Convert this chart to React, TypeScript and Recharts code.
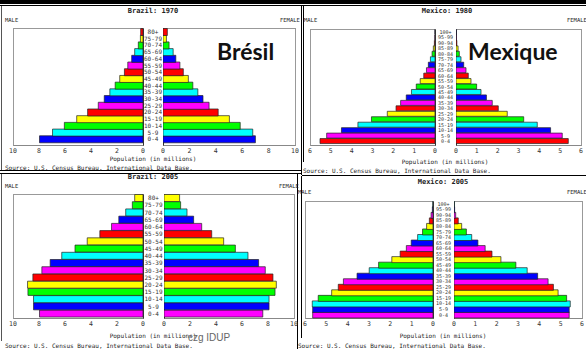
import React from 'react';
import { BarChart, Bar, XAxis, YAxis, Cell } from 'recharts';

const brazilAges = ['0-4','5-9','10-14','15-19','20-24','25-29','30-34','35-39','40-44','45-49','50-54','55-59','60-64','65-69','70-74','75-79','80+'];
const mexicoAges = ['0-4','5-9','10-14','15-19','20-24','25-29','30-34','35-39','40-44','45-49','50-54','55-59','60-64','65-69','70-74','75-79','80-84','85-89','90-94','95-99','100+'];

const brazilTicks = [0, 2, 4, 6, 8, 10];
const mexicoTicks = [0, 1, 2, 3, 4, 5, 6];

const brazil1970Male = [7.96, 6.96, 6.05, 5.1, 4.26, 3.44, 2.98, 2.55, 2.14, 1.79, 1.43, 1.17, 0.87, 0.64, 0.36, 0.2, 0.18];
const brazil1970Female = [7.0, 6.8, 5.85, 5.03, 4.18, 3.49, 3.03, 2.64, 2.26, 1.92, 1.54, 1.28, 0.97, 0.77, 0.46, 0.26, 0.33];

const mexico1980Male = [5.52, 5.2, 4.49, 3.7, 3.05, 2.29, 1.87, 1.65, 1.38, 1.13, 0.9, 0.71, 0.54, 0.41, 0.32, 0.22, 0.14, 0.08, 0.03, 0.01, 0.005];
const mexico1980Female = [5.39, 5.1, 4.54, 3.9, 3.25, 2.46, 2.03, 1.74, 1.46, 1.2, 0.99, 0.72, 0.59, 0.48, 0.37, 0.24, 0.16, 0.1, 0.04, 0.02, 0.01];

const brazil2005Male = [7.96, 8.42, 8.42, 8.85, 8.88, 8.47, 7.78, 7.14, 6.25, 5.23, 4.29, 3.32, 2.42, 1.86, 1.33, 0.82, 0.64];
const brazil2005Female = [7.6, 8.08, 8.08, 8.54, 8.64, 8.38, 7.79, 7.28, 6.46, 5.49, 4.59, 3.67, 2.9, 2.28, 1.77, 1.28, 1.2];

const mexico2005Male = [5.64, 5.64, 5.66, 5.38, 4.75, 4.44, 4.2, 3.56, 2.99, 2.55, 1.93, 1.54, 1.25, 1.02, 0.72, 0.49, 0.3, 0.17, 0.09, 0.03, 0.01];
const mexico2005Female = [5.4, 5.4, 5.45, 5.28, 4.88, 4.66, 4.41, 3.92, 3.43, 2.9, 2.2, 1.78, 1.46, 1.12, 0.83, 0.58, 0.36, 0.2, 0.08, 0.03, 0.01];

const palette = ['#0000ff', '#00ffff', '#00ff00', '#ffff00', '#ff0000', '#ff00ff'];
const MONO = '"DejaVu Sans Mono", monospace';

type Box = { left: number; right: number; top: number; bottom: number };

function makeAgeTick(size: number) {
  return function AgeTick(props: any) {
    const { x, y, payload } = props;
    return (
      <text x={x} y={y} dy={size * 0.36} textAnchor="middle" fontSize={size} fontFamily={MONO} fill="#333">
        {payload.value}
      </text>
    );
  };
}

function Half(props: {
  ages: string[];
  values: number[];
  male: boolean;
  max: number;
  ticks: number[];
  box: Box;
  gap: number;
  colorStart: number;
  padTop: number;
  padBottom: number;
  labelSize: number;
}) {
  const { ages, values, male, max, ticks, box, gap, colorStart, padTop, padBottom, labelSize } = props;
  const data = ages.map((a, i) => ({ age: a, v: values[i] }));
  const plotW = box.right - box.left;
  const plotH = box.bottom - box.top;
  const axisH = 14;
  const mL = male ? 8 : 0;
  const mR = 8;
  const yW = male ? 0 : gap;
  const width = plotW + mL + mR + yW;
  const left = box.left - mL - yW;
  const AgeTick = makeAgeTick(labelSize);
  return (
    <>
      <div
        style={{
          position: 'absolute',
          left: box.left,
          top: box.top,
          width: plotW + 1,
          height: plotH + 1,
          boxSizing: 'border-box',
          borderTop: '1px solid #999',
          borderBottom: '1px solid #888',
          borderLeft: male ? '1px solid #999' : '1px solid #333',
          borderRight: male ? '1px solid #333' : '1px solid #999',
        }}
      />
      <div style={{ position: 'absolute', left, top: box.top, width, height: plotH + axisH }}>
        <BarChart
          width={width}
          height={plotH + axisH}
          data={data}
          layout="vertical"
          margin={{ top: 0, right: mR, bottom: 0, left: mL }}
          barCategoryGap={0}
        >
          <XAxis
            type="number"
            domain={[0, max]}
            ticks={ticks}
            reversed={male}
            allowDataOverflow
            height={axisH}
            axisLine={false}
            tickLine={false}
            tickSize={0}
            tickMargin={3}
            interval={0}
            tick={{ fontSize: 6.5, fill: '#333', fontFamily: MONO }}
          />
          <YAxis
            type="category"
            dataKey="age"
            reversed
            hide={male}
            width={yW}
            padding={{ top: padTop, bottom: padBottom }}
            interval={0}
            axisLine={false}
            tickLine={false}
            tickSize={0}
            tickMargin={gap / 2}
            tick={<AgeTick />}
          />
          <Bar dataKey="v" isAnimationActive={false} stroke="#222" strokeWidth={0.7}>
            {data.map((d, i) => (
              <Cell key={d.age} fill={palette[(colorStart + i) % palette.length]} />
            ))}
          </Bar>
        </BarChart>
      </div>
    </>
  );
}

function Pyramid(props: {
  ages: string[];
  male: number[];
  female: number[];
  max: number;
  ticks: number[];
  maleBox: Box;
  femaleBox: Box;
  colorStart: number;
  padTop: number;
  padBottom: number;
  labelSize: number;
}) {
  const gap = props.femaleBox.left - props.maleBox.right;
  return (
    <>
      <Half ages={props.ages} values={props.male} male max={props.max} ticks={props.ticks} box={props.maleBox} gap={gap} colorStart={props.colorStart} padTop={props.padTop} padBottom={props.padBottom} labelSize={props.labelSize} />
      <Half ages={props.ages} values={props.female} male={false} max={props.max} ticks={props.ticks} box={props.femaleBox} gap={gap} colorStart={props.colorStart} padTop={props.padTop} padBottom={props.padBottom} labelSize={props.labelSize} />
    </>
  );
}

const t = (x: number, y: number, s: string, size: number, opts: any = {}) => (
  <text x={x} y={y} fontSize={size} fontFamily={MONO} fill="#222" dominantBaseline="central" {...opts}>
    {s}
  </text>
);

export default function App() {
  return (
    <div style={{ position: 'absolute', left: 0, top: 0, width: 586, height: 349, background: '#fff', overflow: 'hidden' }}>
      <svg width={586} height={349} style={{ position: 'absolute', left: 0, top: 0 }}>
        <rect x={0} y={0} width={586} height={4} fill="#000" />
        <line x1={0} x2={586} y1={5.5} y2={5.5} stroke="#000" />
        <line x1={1.5} x2={1.5} y1={6} y2={170} stroke="#555" />
        <line x1={1.5} x2={1.5} y1={174} y2={341} stroke="#555" />
        <line x1={0} x2={302} y1={170.5} y2={170.5} stroke="#000" />
        <line x1={0} x2={302} y1={173.5} y2={173.5} stroke="#000" />
        <line x1={301.5} x2={301.5} y1={5} y2={175} stroke="#000" />
        <line x1={303.5} x2={303.5} y1={5} y2={162} stroke="#000" />
        <line x1={302} x2={586} y1={175.5} y2={175.5} stroke="#000" />
        <line x1={297.5} x2={297.5} y1={173} y2={349} stroke="#000" />
        <line x1={301.5} x2={301.5} y1={176} y2={338} stroke="#000" />
      </svg>

      <Pyramid ages={brazilAges} male={brazil1970Male} female={brazil1970Female} max={10} ticks={brazilTicks}
        maleBox={{ left: 13, right: 143, top: 28, bottom: 145 }} femaleBox={{ left: 163, right: 295, top: 28, bottom: 145 }}
        colorStart={0} padTop={0.5} padBottom={2.5} labelSize={6} />
      <Pyramid ages={mexicoAges} male={mexico1980Male} female={mexico1980Female} max={6} ticks={mexicoTicks}
        maleBox={{ left: 310, right: 435, top: 29, bottom: 145 }} femaleBox={{ left: 456, right: 581, top: 29, bottom: 145 }}
        colorStart={4} padTop={0.5} padBottom={1} labelSize={5} />
      <Pyramid ages={brazilAges} male={brazil2005Male} female={brazil2005Female} max={10} ticks={brazilTicks}
        maleBox={{ left: 13, right: 143, top: 194, bottom: 318 }} femaleBox={{ left: 164, right: 294, top: 194, bottom: 318 }}
        colorStart={5} padTop={0.5} padBottom={0.7} labelSize={6} />
      <Pyramid ages={mexicoAges} male={mexico2005Male} female={mexico2005Female} max={6} ticks={mexicoTicks}
        maleBox={{ left: 305, right: 433, top: 201, bottom: 318 }} femaleBox={{ left: 454, right: 582, top: 201, bottom: 318 }}
        colorStart={5} padTop={0.3} padBottom={0.5} labelSize={5} />

      <svg width={586} height={349} style={{ position: 'absolute', left: 0, top: 0, pointerEvents: 'none' }}>
        {t(153, 11, 'Brazil: 1970', 7, { textAnchor: 'middle', fontWeight: 'bold' })}
        {t(447, 11, 'Mexico: 1980', 7, { textAnchor: 'middle', fontWeight: 'bold' })}
        {t(153, 177, 'Brazil: 2005', 7, { textAnchor: 'middle', fontWeight: 'bold' })}
        {t(443, 182, 'Mexico: 2005', 7, { textAnchor: 'middle', fontWeight: 'bold' })}

        {t(5, 20, 'MALE', 5.5)}
        {t(280, 20, 'FEMALE', 5.5)}
        {t(304, 20, 'MALE', 5.5)}
        {t(567, 20, 'FEMALE', 5.5)}
        {t(5, 186, 'MALE', 5.5)}
        {t(279, 186, 'FEMALE', 5.5)}
        {t(298, 192, 'MALE', 5.5)}
        {t(567, 192, 'FEMALE', 5.5)}

        {t(153, 158, 'Population (in millions)', 6, { textAnchor: 'middle' })}
        {t(445, 161, 'Population (in millions)', 6, { textAnchor: 'middle' })}
        {t(153, 335, 'Population (in millions)', 6, { textAnchor: 'middle' })}
        {t(443, 335, 'Population (in millions)', 6, { textAnchor: 'middle' })}

        {t(5, 167, 'Source: U.S. Census Bureau, International Data Base.', 6)}
        {t(303, 170, 'Source: U.S. Census Bureau, International Data Base.', 6)}
        {t(5, 345, 'Source: U.S. Census Bureau, International Data Base.', 6)}
        {t(298, 345, 'Source: U.S. Census Bureau, International Data Base.', 6)}

        <text x={217} y={60} fontSize={23} fontWeight="bold" fontFamily="Lato, sans-serif" fill="#111">Brésil</text>
        <text x={468} y={60} fontSize={23} fontWeight="bold" fontFamily="Lato, sans-serif" fill="#111">Mexique</text>
        <text x={188} y={341} fontSize={10} fontFamily="Liberation Sans, sans-serif" fill="#666">czg IDUP</text>
      </svg>
    </div>
  );
}
